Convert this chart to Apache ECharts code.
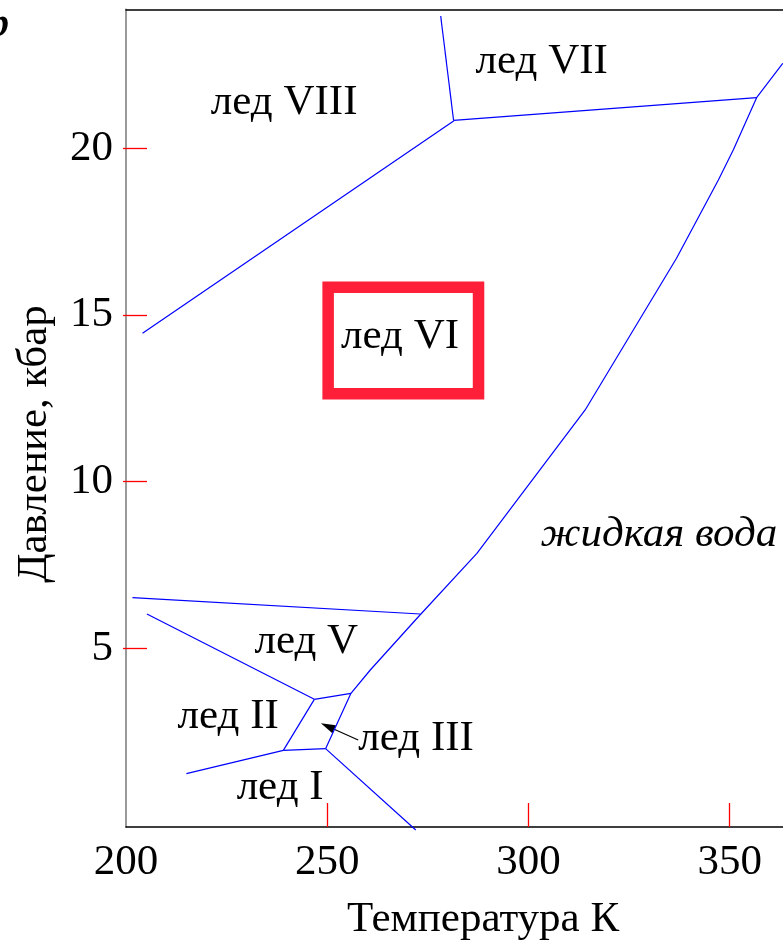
<!DOCTYPE html>
<html><head><meta charset="utf-8">
<script src="https://cdn.jsdelivr.net/npm/echarts@6/dist/echarts.min.js"></script>
<style>html,body{margin:0;padding:0;background:#fff}#c{width:783px;height:948px}</style>
</head><body><div id="c"></div>
<script>
// ---- data (temperature K, pressure kbar) ----
const tempTicks = [200, 250, 300, 350];
const tempTickMarks = [250, 300, 350];
const pressTicks = [5, 10, 15, 20];

const lineVIII_VI = [[204.1, 14.45], [281.5, 20.83]];
const lineVII_VIII = [[278.2, 23.97], [281.4, 20.84]];
const lineVII_VI = [[281.4, 20.84], [356.7, 21.52]];
const meltCurve = [[249.6, 1.99], [255.9, 3.65], [260.7, 4.35], [272.6, 5.94], [287.2, 7.85], [314.1, 12.15], [336.8, 16.70], [347.2, 19.05], [350.9, 19.95], [356.7, 21.52], [363.2, 22.55]];
const lineV_VI = [[201.6, 6.52], [273.1, 6.03]];
const lineII_V = [[205.2, 6.03], [246.8, 3.47]];
const lineIII_V = [[246.8, 3.47], [255.9, 3.65]];
const lineII_III = [[246.8, 3.47], [239.1, 1.94]];
const lineI_II = [[215.0, 1.24], [239.1, 1.94]];
const lineI_III = [[239.1, 1.94], [249.6, 1.99]];
const lineI_liquid = [[249.6, 1.99], [272.0, -0.45]];

const phaseNames = ['лед VIII', 'лед VII', 'лед VI', 'жидкая вода', 'лед V', 'лед II', 'лед III', 'лед I'];
const phaseAt = [[239.3, 21.36], [303.3, 22.59], [268.1, 14.34], [332.4, 8.4], [244.8, 5.19], [225.4, 2.94], [272.1, 2.28], [238.3, 0.81]];
const highlightBox = [[250.23, 15.83], [287.6, 12.64]];
const arrowFrom = [257.7, 2.25];
const arrowTip = [248.43, 2.75];

const xTitle = 'Температура К';
const yTitle = 'Давление, кбар';

// ---- chart ----
const FONT = '"Liberation Serif", "Times New Roman", serif';
const chart = echarts.init(document.getElementById('c'));
const boundaries = [lineVIII_VI, lineVII_VIII, lineVII_VI, meltCurve, lineV_VI, lineII_V, lineIII_V, lineII_III, lineI_II, lineI_III, lineI_liquid];
const series = boundaries.map((d, i) => ({
  type: 'line', data: d, showSymbol: false, silent: true, clip: false,
  lineStyle: {color: '#0000ff', width: 1.2}
}));
series[0].markArea = {
  silent: true,
  itemStyle: {color: 'rgba(0,0,0,0)', borderColor: '#ff1f38', borderWidth: 11.5},
  data: [[{coord: highlightBox[0]}, {coord: highlightBox[1]}]]
};

chart.setOption({
  animation: false,
  backgroundColor: '#fff',
  grid: {left: 126, top: 9.3, width: 664, height: 817.7, containLabel: false, outerBoundsMode: 'none'},
  xAxis: [{
    type: 'value', min: 200, max: 365, position: 'bottom',
    axisLine: {onZero: false, lineStyle: {color: '#000', width: 1.5}},
    axisTick: {show: true, inside: true, length: 24, customValues: tempTickMarks, lineStyle: {color: '#ff0000', width: 1.3}},
    axisLabel: {customValues: tempTicks, fontSize: 43, fontFamily: FONT, color: '#000', margin: 14},
    splitLine: {show: false}
  }, {
    type: 'value', min: 200, max: 365, position: 'top',
    axisLine: {show: true, onZero: false, lineStyle: {color: '#000', width: 1.5}},
    axisTick: {show: false}, axisLabel: {show: false}, splitLine: {show: false}
  }],
  yAxis: [{
    type: 'value', min: -0.36, max: 24.17, position: 'left',
    axisLine: {show: true, onZero: false, lineStyle: {color: '#808080', width: 1.6}},
    axisTick: {show: true, inside: true, length: 21, customValues: pressTicks, lineStyle: {color: '#ff0000', width: 1.3}},
    axisLabel: {customValues: pressTicks, fontSize: 43, fontFamily: FONT, color: '#000', margin: 13},
    splitLine: {show: false}
  }, {
    type: 'value', min: -0.36, max: 24.17, position: 'left',
    axisLine: {show: false, onZero: false},
    axisTick: {show: true, inside: false, length: 3, customValues: pressTicks, lineStyle: {color: '#ff0000', width: 1.3}},
    axisLabel: {show: false}, splitLine: {show: false}
  }],
  series: series
});

const px = p => chart.convertToPixel({xAxisIndex: 0, yAxisIndex: 0}, p);
const graphics = [];
phaseNames.forEach((t, i) => {
  const [x, y] = px(phaseAt[i]);
  graphics.push({type: 'text', x: x, y: y, silent: true, style: {
    text: t, align: 'center', verticalAlign: 'middle', fill: '#000',
    font: (t === 'жидкая вода' ? 'italic ' : '') + '43px ' + FONT
  }});
});
// arrow for ice III
const a0 = px(arrowFrom), a1 = px(arrowTip);
const dx = a1[0] - a0[0], dy = a1[1] - a0[1], len = Math.hypot(dx, dy);
const ux = dx / len, uy = dy / len, nx = -uy, ny = ux;
const headL = 14.5, headW = 4.3;
const bx = a1[0] - ux * headL, by = a1[1] - uy * headL;
graphics.push({type: 'line', silent: true, shape: {x1: a0[0], y1: a0[1], x2: bx, y2: by}, style: {stroke: '#000', lineWidth: 1.2}});
graphics.push({type: 'polygon', silent: true, shape: {points: [[a1[0], a1[1]], [bx + nx * headW, by + ny * headW], [bx - nx * headW, by - ny * headW]]}, style: {fill: '#000'}});
// axis titles
graphics.push({type: 'text', x: 483, y: 920, silent: true, style: {text: xTitle, align: 'center', verticalAlign: 'middle', fill: '#000', font: '43px ' + FONT}});
graphics.push({type: 'text', x: 35, y: 444, rotation: Math.PI / 2, silent: true, style: {text: yTitle, align: 'center', verticalAlign: 'middle', fill: '#000', font: '43px ' + FONT}});
// partly visible corner letter
graphics.push({type: 'text', x: 9, y: 26, silent: true, style: {text: 'p', align: 'right', verticalAlign: 'middle', fill: '#000', font: 'italic bold 40px ' + FONT}});
chart.setOption({graphic: graphics});
</script></body></html>
